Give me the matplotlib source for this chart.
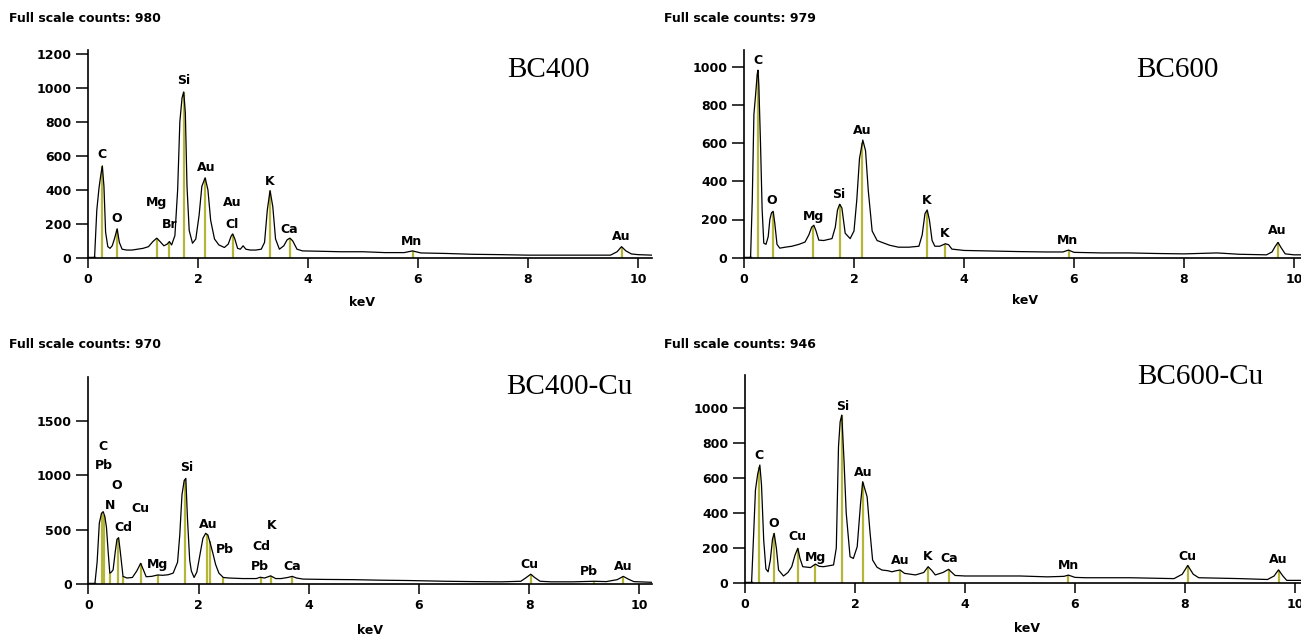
import numpy as np
import matplotlib
matplotlib.use("Agg")
import matplotlib.pyplot as plt

# ---------------- data ----------------
titles = ["Full scale counts: 980", "Full scale counts: 979",
          "Full scale counts: 970", "Full scale counts: 946"]
samples = ["BC400", "BC600", "BC400-Cu", "BC600-Cu"]

# BC400
e1 = [0, 0.10, 0.12, 0.16, 0.20, 0.23, 0.26, 0.29, 0.32, 0.36, 0.40, 0.44, 0.48, 0.53, 0.57, 0.62,
      0.70, 0.80, 0.90, 1.00, 1.10, 1.18, 1.25, 1.31, 1.38, 1.44, 1.48, 1.52, 1.58, 1.63, 1.67, 1.71,
      1.74, 1.77, 1.80, 1.84, 1.90, 1.96, 2.02, 2.07, 2.13, 2.18, 2.23, 2.30, 2.38, 2.48, 2.55, 2.60,
      2.63, 2.67, 2.72, 2.77, 2.82, 2.87, 2.95, 3.05, 3.15, 3.21, 3.26, 3.31, 3.36, 3.41, 3.48, 3.56,
      3.62, 3.67, 3.72, 3.80, 3.90, 4.2, 4.6, 5.0, 5.4, 5.75, 5.9, 6.05, 6.5, 7.0, 7.5, 8.0, 8.5,
      9.0, 9.5, 9.62, 9.70, 9.78, 9.88, 10.0, 10.25]
c1 = [0, 0, 5, 280, 410, 480, 540, 420, 150, 65, 55, 70, 110, 170, 90, 50,
      45, 45, 50, 55, 65, 95, 115, 95, 70, 80, 95, 75, 130, 400, 800, 940,
      975, 850, 420, 160, 85, 110, 250, 420, 470, 400, 220, 110, 75, 60, 80, 125,
      140, 110, 55, 50, 70, 50, 45, 45, 50, 90, 280, 395, 300, 110, 50, 70,
      105, 115, 100, 50, 40, 38, 35, 35, 30, 30, 40, 28, 25, 20, 18, 15, 15,
      15, 15, 35, 65, 40, 22, 18, 15]
lines1 = [0.26, 0.53, 1.25, 1.48, 1.74, 2.13, 2.63, 3.31, 3.67, 5.9, 9.70]
lab1 = ["C", "O", "Mg", "Br", "Si", "Au", "Au", "Cl", "K", "Ca", "Mn", "Au"]
labx1 = [0.26, 0.53, 1.25, 1.49, 1.74, 2.14, 2.62, 2.62, 3.31, 3.65, 5.89, 9.69]
laby1 = [610, 233, 322, 198, 1045, 533, 322, 198, 451, 168, 98, 122]

# BC600
e2 = [0, 0.10, 0.12, 0.15, 0.18, 0.21, 0.24, 0.255, 0.27, 0.30, 0.33, 0.36, 0.40, 0.44, 0.47, 0.50,
      0.53, 0.56, 0.60, 0.65, 0.75, 0.87, 1.00, 1.11, 1.18, 1.23, 1.27, 1.31, 1.36, 1.45, 1.60, 1.66,
      1.70, 1.74, 1.78, 1.84, 1.93, 2.00, 2.05, 2.10, 2.16, 2.21, 2.26, 2.33, 2.42, 2.51, 2.65, 2.81,
      3.00, 3.18, 3.24, 3.29, 3.33, 3.37, 3.42, 3.47, 3.56, 3.66, 3.72, 3.78, 4.0, 4.5, 5.0, 5.5,
      5.8, 5.9, 6.0, 6.5, 7.0, 7.5, 8.0, 8.6, 9.0, 9.5, 9.60, 9.66, 9.71, 9.76, 9.84, 10.0, 10.13]
c2 = [0, 0, 5, 300, 750, 850, 960, 982, 900, 600, 250, 76, 70, 110, 200, 235,
      243, 180, 70, 50, 55, 60, 70, 82, 120, 160, 170, 140, 92, 90, 100, 160,
      250, 280, 260, 128, 100, 140, 300, 520, 616, 560, 350, 140, 90, 80, 65, 55,
      55, 60, 120, 230, 250, 200, 90, 60, 60, 73, 68, 45, 38, 35, 32, 30,
      30, 40, 28, 25, 25, 22, 20, 25, 18, 15, 30, 60, 80, 55, 20, 15, 15]
lines2 = [0.25, 0.52, 1.26, 1.74, 2.15, 3.32, 3.66, 5.9, 9.71]
lab2 = ["C", "O", "Mg", "Si", "Au", "K", "K", "Mn", "Au"]
labx2 = [0.25, 0.51, 1.26, 1.73, 2.15, 3.32, 3.65, 5.89, 9.70]
laby2 = [1030, 297, 218, 333, 668, 302, 128, 89, 140]

# BC400-Cu
e3 = [0, 0.10, 0.12, 0.16, 0.20, 0.24, 0.27, 0.30, 0.33, 0.36, 0.39, 0.42, 0.45, 0.49, 0.52, 0.55,
      0.58, 0.63, 0.70, 0.80, 0.88, 0.95, 1.00, 1.05, 1.15, 1.26, 1.35, 1.45, 1.54, 1.62, 1.66, 1.70,
      1.74, 1.77, 1.80, 1.84, 1.87, 1.92, 1.97, 2.03, 2.08, 2.13, 2.17, 2.21, 2.26, 2.31, 2.37, 2.45,
      2.55, 2.8, 3.05, 3.12, 3.20, 3.31, 3.40, 3.50, 3.62, 3.70, 3.78, 3.9, 4.3, 4.8, 5.3, 5.8,
      6.0, 6.5, 7.0, 7.5, 7.85, 7.95, 8.03, 8.10, 8.2, 8.4, 8.8, 9.18, 9.4, 9.6, 9.71, 9.8, 9.9, 10.25]
c3 = [0, 0, 5, 200, 560, 650, 665, 620, 520, 300, 100, 110, 130, 300, 410, 426,
      300, 70, 55, 60, 120, 190, 130, 67, 70, 83, 80, 85, 100, 200, 450, 820,
      950, 971, 600, 220, 120, 60, 110, 280, 420, 466, 450, 380, 285, 180, 100, 60,
      55, 50, 50, 62, 55, 75, 50, 50, 60, 70, 55, 45, 42, 40, 35, 32,
      30, 25, 22, 20, 25, 60, 90, 60, 25, 20, 20, 25, 22, 40, 70, 45, 22, 15]
lines3 = [0.24, 0.29, 0.40, 0.54, 0.63, 0.95, 1.26, 1.76, 2.15, 2.20, 2.45, 3.13, 3.31, 3.70,
          8.03, 9.18, 9.71]
lab3 = ["C", "Pb", "O", "N", "Cu", "Cd", "Mg", "Si", "Au", "Pb", "K", "Cd", "Pb", "Ca",
        "Cu", "Pb", "Au"]
labx3 = [0.27, 0.29, 0.52, 0.40, 0.94, 0.63, 1.26, 1.78, 2.17, 2.47, 3.33, 3.15, 3.12, 3.70,
         8.01, 9.08, 9.70]
laby3 = [1268, 1088, 904, 720, 696, 518, 175, 1069, 551, 319, 542, 349, 165, 165,
         175, 113, 159]

# BC600-Cu
e4 = [0, 0.10, 0.12, 0.16, 0.19, 0.23, 0.27, 0.30, 0.34, 0.38, 0.42, 0.46, 0.50, 0.53, 0.57, 0.61,
      0.70, 0.78, 0.85, 0.91, 0.96, 1.00, 1.05, 1.19, 1.28, 1.35, 1.43, 1.61, 1.66, 1.70, 1.73, 1.76,
      1.80, 1.84, 1.91, 1.97, 2.04, 2.10, 2.14, 2.22, 2.27, 2.32, 2.40, 2.49, 2.60, 2.67, 2.75, 2.82,
      2.90, 3.1, 3.25, 3.33, 3.40, 3.46, 3.60, 3.70, 3.82, 4.0, 4.5, 5.0, 5.5, 5.8,
      5.88, 6.0, 6.2, 7.0, 7.8, 7.95, 8.05, 8.15, 8.25, 9.0, 9.5, 9.62, 9.70, 9.78, 9.85, 10.11]
c4 = [0, 0, 5, 300, 530, 620, 673, 560, 245, 80, 64, 130, 250, 283, 200, 74,
      40, 60, 93, 160, 198, 140, 93, 88, 108, 95, 93, 103, 200, 778, 920, 958,
      700, 400, 150, 140, 207, 450, 578, 492, 300, 131, 90, 74, 70, 64, 70, 74,
      55, 46, 60, 93, 70, 46, 60, 78, 43, 40, 40, 40, 35, 38,
      45, 32, 30, 30, 25, 50, 100, 50, 30, 25, 20, 40, 75, 40, 15, 15]
lines4 = [0.26, 0.53, 0.96, 1.28, 1.76, 2.14, 2.82, 3.33, 3.70, 5.88, 8.05, 9.70]
lab4 = ["C", "O", "Cu", "Mg", "Si", "Au", "Au", "K", "Ca", "Mn", "Cu", "Au"]
labx4 = [0.26, 0.53, 0.95, 1.28, 1.77, 2.15, 2.82, 3.32, 3.71, 5.89, 8.05, 9.70]
laby4 = [730, 340, 268, 146, 1006, 629, 131, 150, 137, 97, 154, 135]

yticks = [[0, 200, 400, 600, 800, 1000, 1200],
          [0, 200, 400, 600, 800, 1000],
          [0, 500, 1000, 1500],
          [0, 200, 400, 600, 800, 1000]]
xticks = [0, 2, 4, 6, 8, 10]

# ---------------- layout (pixel geometry) ----------------
W, H = 1301, 638
# (x0 px, y0 px, px per keV, px per count, xmax, ymax)
geom = [(88, 257.7, 55.0, 0.170, 10.25, 1220),
        (744, 257.7, 55.0, 0.191, 10.13, 1088),
        (88.3, 584, 55.1, 0.1088, 10.23, 1903),
        (745, 583, 55.0, 0.1753, 10.11, 1187)]
title_pos = [(9, 19), (664, 19), (9, 345), (664, 345)]
sample_pos = [(548, 70), (1177, 70), (569, 387), (1200, 377)]
kev_pos = [(362, 303), (1025, 301), (370, 631), (1027, 628)]

spectra = [(e1, c1, lines1, lab1, labx1, laby1),
           (e2, c2, lines2, lab2, labx2, laby2),
           (e3, c3, lines3, lab3, labx3, laby3),
           (e4, c4, lines4, lab4, labx4, laby4)]

sans = "DejaVu Sans"
serif = "Liberation Serif"
mark_col = "#b5b53a"
fs = 9

fig = plt.figure(figsize=(W / 100, H / 100), dpi=100)
fig.patch.set_facecolor("white")

for i, (e, c, lns, labs, lx, ly) in enumerate(spectra):
    assert len(e) == len(c)
    x0, y0, pxk, pxc, xmax, ymax = geom[i]
    wpx = xmax * pxk
    hpx = ymax * pxc
    ax = fig.add_axes([x0 / W, (H - y0) / H, wpx / W, hpx / H])
    ax.set_xlim(0, xmax)
    ax.set_ylim(0, ymax)
    # peak marker lines
    for le in lns:
        h = float(np.interp(le, e, c))
        ax.vlines(le, 0, h, color=mark_col, lw=1.6, zorder=2)
    ax.plot(e, c, color="black", lw=0.9, zorder=3)
    ax.plot([0, 0.1], [0, 0], color="black", lw=2.5, zorder=3)
    for t, xx, yy in zip(labs, lx, ly):
        ax.text(xx, yy, t, ha="center", va="center", fontsize=fs,
                fontweight="bold", family=sans, zorder=4)
    for s in ["top", "right"]:
        ax.spines[s].set_visible(False)
    for s in ["left", "bottom"]:
        ax.spines[s].set_linewidth(1.2)
    ax.set_xticks(xticks)
    ax.set_yticks(yticks[i])
    ax.tick_params(axis="y", direction="out", length=9, width=1.1, pad=3, labelsize=fs)
    ax.tick_params(axis="x", direction="out", length=7, width=1.1, pad=4, labelsize=fs)
    for lab in ax.get_xticklabels() + ax.get_yticklabels():
        lab.set_fontweight("bold")
        lab.set_family(sans)
    ax.patch.set_alpha(0)

    tx, ty = title_pos[i]
    fig.text(tx / W, 1 - ty / H, titles[i], ha="left", va="center",
             fontsize=fs, fontweight="bold", family=sans)
    sx, sy = sample_pos[i]
    fig.text(sx / W, 1 - sy / H, samples[i], ha="center", va="center",
             fontsize=21, family=serif)
    kx, ky = kev_pos[i]
    fig.text(kx / W, 1 - ky / H, "keV", ha="center", va="center",
             fontsize=fs, fontweight="bold", family=sans)

fig.savefig("out.png", dpi=100)
